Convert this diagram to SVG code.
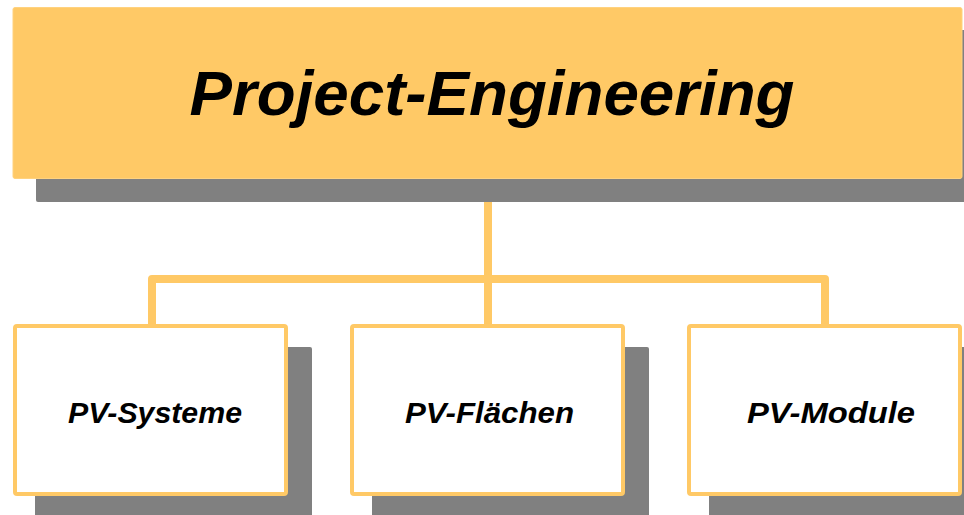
<svg xmlns="http://www.w3.org/2000/svg" width="964" height="515" viewBox="0 0 964 515">
<style>
.shadow{fill:#808080}
.top{fill:#FFC966;stroke:#FFD27F;stroke-width:1}
.box{fill:#FFFFFF;stroke:#FFC966;stroke-width:4}
.conn{fill:none;stroke:#FFC966;stroke-width:8;stroke-linejoin:round}
text{font-family:"Liberation Sans",Arial,sans-serif;font-weight:bold;font-style:italic;fill:#000;text-anchor:middle}
.t1{font-size:63px}
.t2{font-size:30px}
</style>
<g id="connectors">
<path class="conn" d="M488 178 V279"/>
<path class="conn" d="M152 326 V279 H825 V326"/>
<path class="conn" d="M488 279 V326"/>
</g>
<g id="project-engineering">
<rect class="shadow" x="36" y="30" width="950" height="172" rx="2"/>
<rect class="top" x="13" y="7.5" width="949" height="171" rx="2"/>
<text class="t1" x="492" y="115" textLength="605" lengthAdjust="spacingAndGlyphs">Project-Engineering</text>
</g>
<g id="pv-systeme">
<rect class="shadow" x="35" y="347" width="277" height="180" rx="2"/>
<rect class="box" x="15" y="326" width="271" height="168" rx="2"/>
<text class="t2" x="155" y="422.5" textLength="174" lengthAdjust="spacingAndGlyphs">PV-Systeme</text>
</g>
<g id="pv-flaechen">
<rect class="shadow" x="372" y="347" width="277" height="180" rx="2"/>
<rect class="box" x="352" y="326" width="271" height="168" rx="2"/>
<text class="t2" x="489.5" y="422.5" textLength="169" lengthAdjust="spacingAndGlyphs">PV-Flächen</text>
</g>
<g id="pv-module">
<rect class="shadow" x="709" y="347" width="277" height="180" rx="2"/>
<rect class="box" x="689" y="326" width="271" height="168" rx="2"/>
<text class="t2" x="831" y="422.5" textLength="168" lengthAdjust="spacingAndGlyphs">PV-Module</text>
</g>
</svg>
